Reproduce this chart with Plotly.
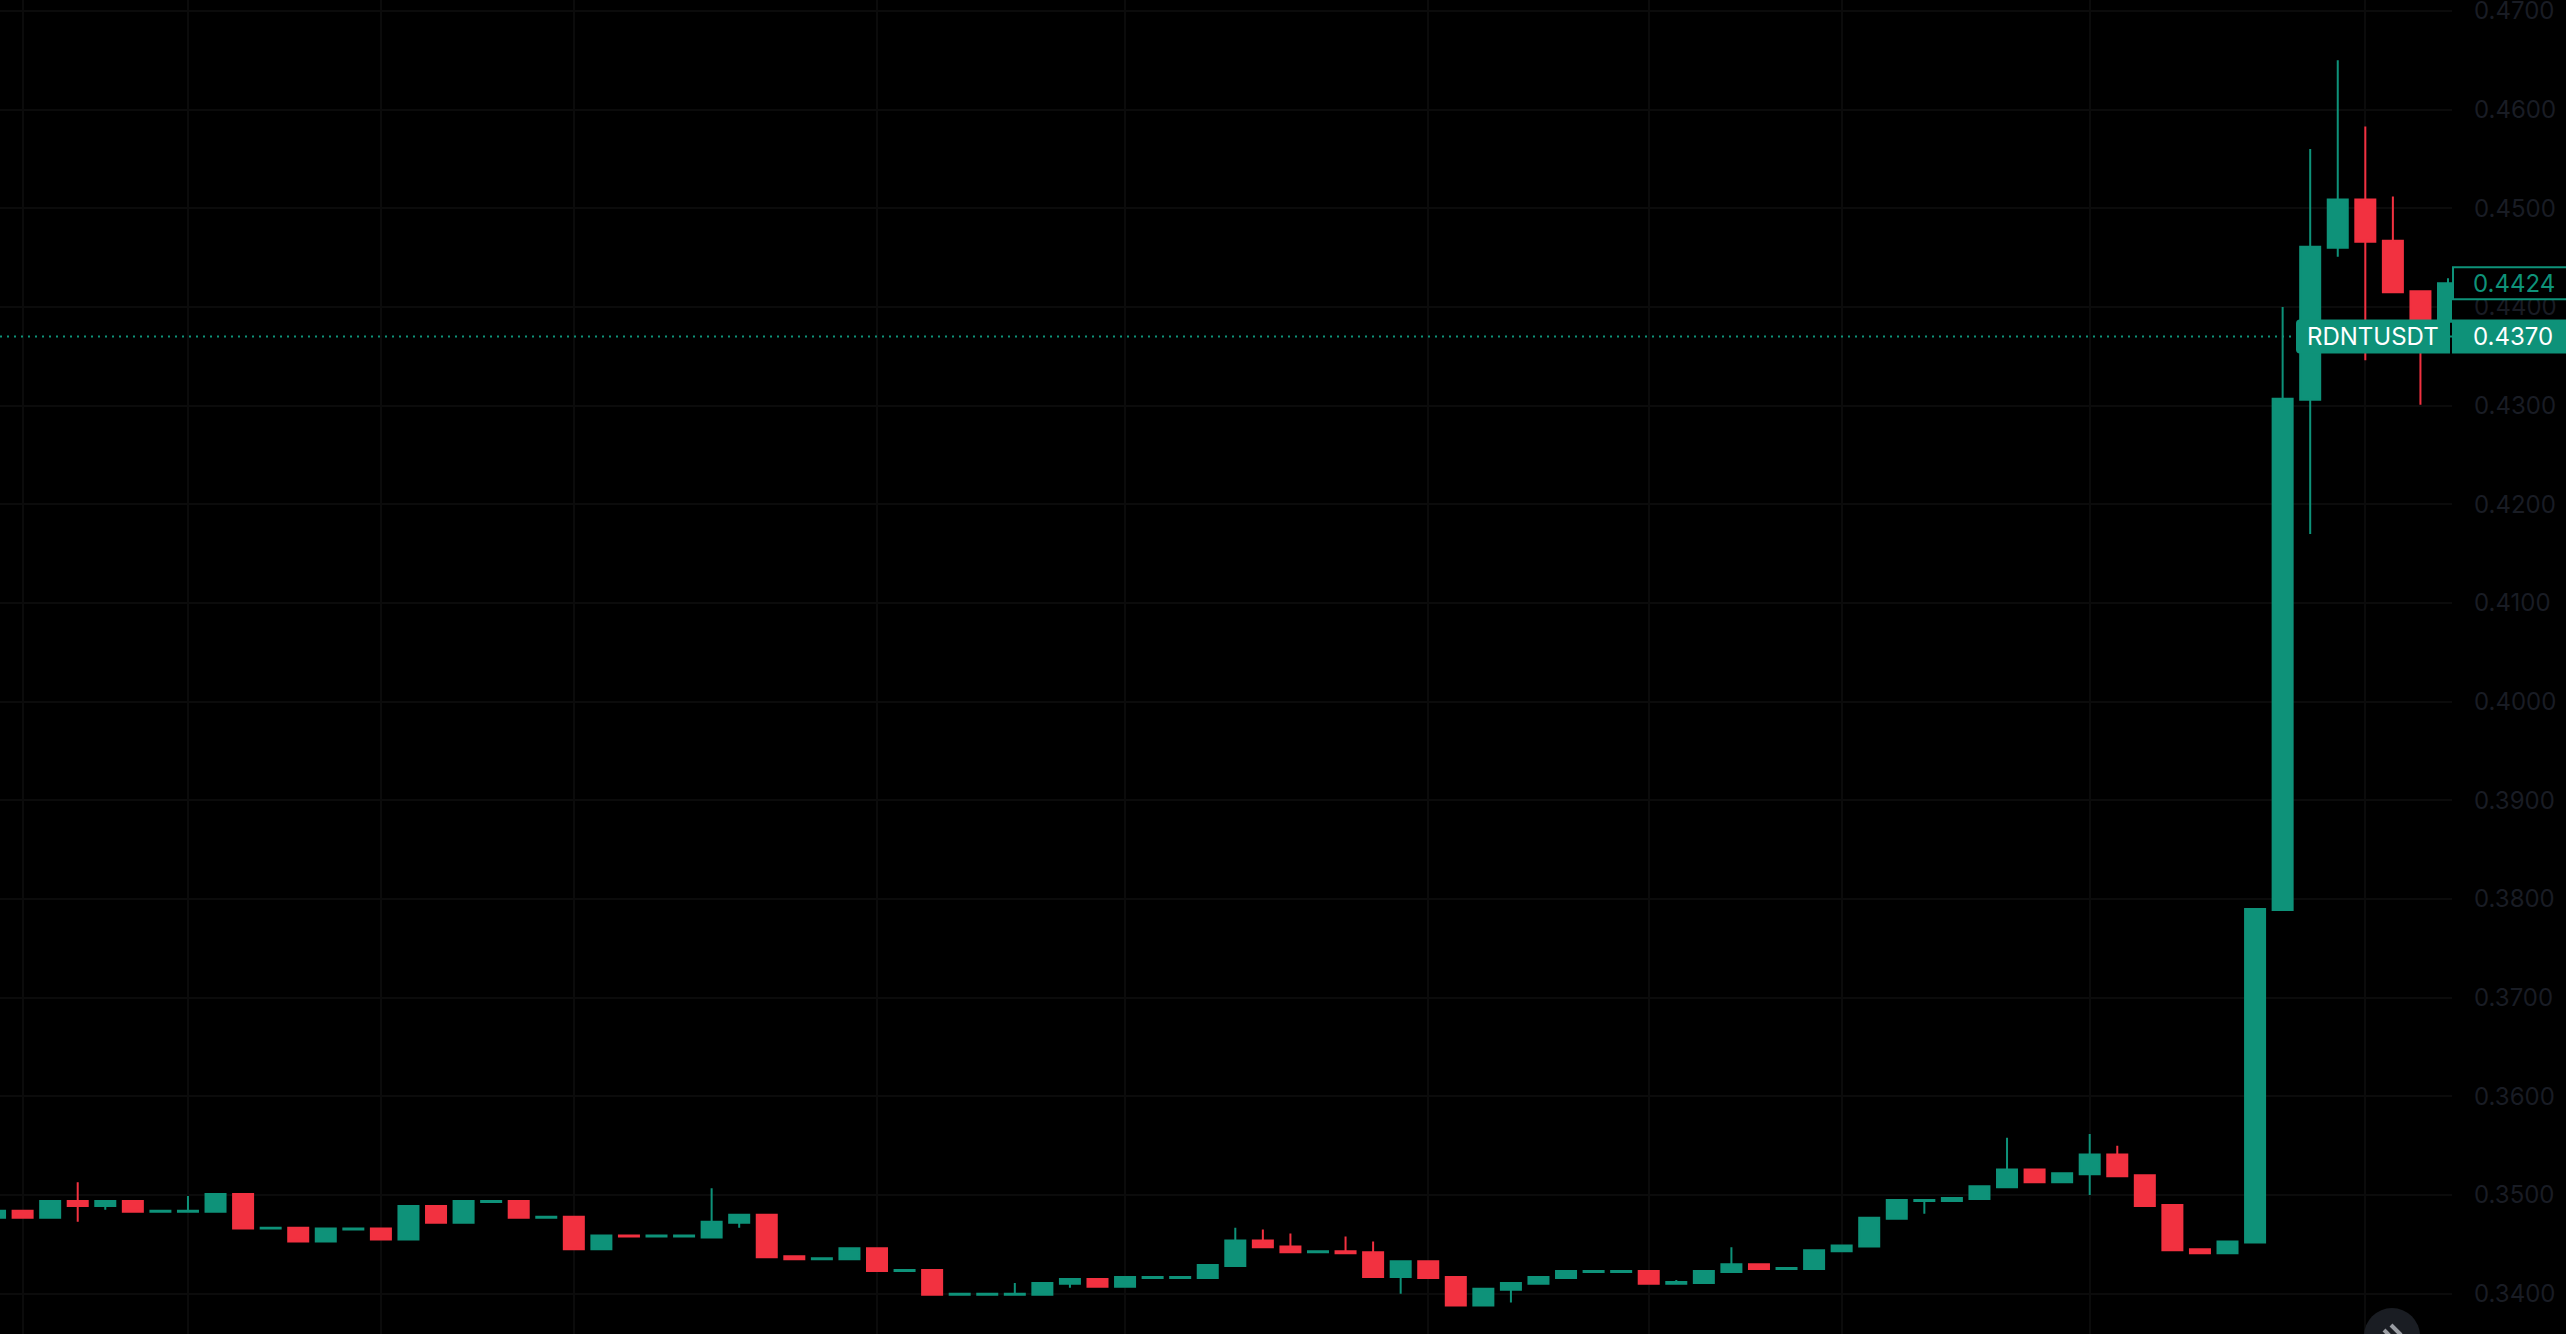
import plotly.graph_objects as go

# candles, prices in units of 0.0001
opens = [3477,3484,3477,3494,3489,3494,3483,3483,3483,3501,3466,3467,3453,3465,3466,3455,3489,3472,3493,3494,
         3477,3478,3445,3459,3458,3458,3457,3472,3480,3438,3435,3435,3446,3423,3424,3399,3399,3399,3399,3410,
         3415,3407,3416,3416,3416,3428,3454,3448,3442,3443,3442,3417,3433,3417,3388,3404,3410,3416,3422,3422,
         3423,3410,3411,3422,3430,3425,3425,3443,3448,3476,3494,3494,3496,3508,3526,3513,3521,3541,3520,3490,
         3445,3441,3452,3789,4306,4460,4509,4467,4416,4385]
highs = [3484,3484,3494,3513,3494,3494,3484,3499,3501,3501,3467,3468,3466,3466,3466,3489,3489,3494,3494,3494,
         3478,3479,3459,3459,3459,3459,3507,3480,3480,3439,3436,3446,3446,3424,3424,3400,3400,3411,3411,3415,
         3415,3417,3417,3417,3429,3467,3465,3461,3443,3458,3453,3433,3433,3417,3405,3411,3417,3423,3423,3423,
         3423,3414,3423,3447,3431,3426,3444,3450,3477,3495,3495,3497,3509,3558,3526,3522,3562,3550,3520,3490,
         3445,3453,3790,4400,4560,4650,4583,4512,4416,4429]
lows = [3477,3477,3477,3473,3485,3483,3483,3483,3483,3466,3466,3453,3453,3465,3455,3455,3472,3472,3493,3477,
        3477,3445,3445,3458,3458,3458,3457,3467,3437,3435,3435,3435,3423,3423,3399,3399,3399,3399,3399,3406,
        3407,3407,3416,3416,3416,3428,3447,3442,3442,3441,3417,3400,3416,3388,3388,3391,3410,3416,3422,3422,
        3410,3410,3411,3422,3425,3425,3425,3442,3448,3476,3481,3494,3496,3508,3513,3513,3500,3519,3489,3444,
        3441,3440,3452,3789,4170,4451,4346,4415,4301,4385]
closes = [3484,3477,3494,3489,3494,3483,3484,3484,3501,3466,3467,3453,3466,3466,3455,3489,3472,3494,3494,3477,
          3478,3445,3459,3458,3459,3459,3473,3480,3437,3435,3436,3446,3423,3424,3399,3400,3400,3400,3411,3415,
          3407,3417,3417,3417,3429,3454,3447,3442,3443,3441,3417,3433,3416,3388,3405,3411,3417,3423,3423,3423,
          3410,3412,3423,3430,3425,3426,3444,3449,3477,3495,3495,3497,3509,3526,3513,3522,3541,3519,3489,3444,
          3441,3453,3790,4307,4461,4509,4466,4415,4385,4424]

price_ticks = [0.34,0.35,0.36,0.37,0.38,0.39,0.40,0.41,0.42,0.43,0.44,0.45,0.46,0.47]
date_grid = [1,7,14,21,32,41,52,60,67,76,86]
symbol = "RDNTUSDT"
last_close = 0.4424
mark_price = 0.4370

GREEN = "#0e9279"
RED = "#f23140"
GRID = "#0b0b0b"
TICK = "#191c24"

idx = list(range(len(closes)))
fig = go.Figure(go.Candlestick(
    x=idx,
    open=[v/10000 for v in opens],
    high=[v/10000 for v in highs],
    low=[v/10000 for v in lows],
    close=[v/10000 for v in closes],
    whiskerwidth=0,
    increasing=dict(line=dict(color=GREEN, width=2), fillcolor=GREEN),
    decreasing=dict(line=dict(color=RED, width=2), fillcolor=RED),
    hoverinfo="skip",
))

# dotted price line
fig.add_shape(type="line", xref="paper", yref="y", x0=0, x1=1, y0=mark_price, y1=mark_price,
              line=dict(color=GREEN, width=2, dash="2px,5px"), layer="above")
# symbol pill
fig.add_shape(type="path", xref="paper", yref="y", xsizemode="pixel", ysizemode="pixel", xanchor=1, yanchor=mark_price,
              path="M -152,-17 L -2,-17 L -2,17 L -152,17 Q -156,17 -156,13 L -156,-13 Q -156,-17 -152,-17 Z",
              fillcolor=GREEN, line=dict(width=0), layer="above")
# price boxes on the axis
fig.add_shape(type="rect", xref="paper", yref="y", xsizemode="pixel", ysizemode="pixel", xanchor=1, yanchor=mark_price,
              x0=0, x1=114, y0=-17, y1=17, fillcolor=GREEN, line=dict(width=0), layer="above")
fig.add_shape(type="rect", xref="paper", yref="y", xsizemode="pixel", ysizemode="pixel", xanchor=1, yanchor=last_close,
              x0=1, x1=116, y0=-16, y1=16, fillcolor="#000000", line=dict(color=GREEN, width=2), layer="above")
# scroll button bottom right
fig.add_shape(type="circle", xref="paper", yref="paper", xsizemode="pixel", ysizemode="pixel", xanchor=1, yanchor=0,
              x0=-88, x1=-32, y0=-30, y1=26, fillcolor="#1a1d23", line=dict(width=0), layer="above")
fig.add_shape(type="line", xref="paper", yref="paper", xsizemode="pixel", ysizemode="pixel", xanchor=1, yanchor=0,
              x0=-68, x1=-60, y0=4, y1=-4, line=dict(color="#9a9da3", width=4), layer="above")
fig.add_shape(type="line", xref="paper", yref="paper", xsizemode="pixel", ysizemode="pixel", xanchor=1, yanchor=0,
              x0=-61, x1=-51, y0=9, y1=-1, line=dict(color="#9a9da3", width=4), layer="above")

fig.add_annotation(x=1, xref="paper", xshift=-79, xanchor="center", y=mark_price, yref="y", text=symbol,
                   showarrow=False, font=dict(family="Inter", size=24, color="#ffffff"))
fig.add_annotation(x=1, xref="paper", xshift=19, xanchor="left", y=mark_price, yref="y", text="%.4f" % mark_price,
                   showarrow=False, font=dict(family="Inter", size=24, color="#ffffff"))
fig.add_annotation(x=1, xref="paper", xshift=19, xanchor="left", y=last_close, yref="y", text="%.4f" % last_close,
                   showarrow=False, font=dict(family="Inter", size=24, color=GREEN))

fig.update_layout(
    width=2566, height=1334, margin=dict(l=0, r=114, t=0, b=0),
    paper_bgcolor="#000000", plot_bgcolor="#000000", showlegend=False,
    boxgap=0.274, boxgroupgap=0,
    xaxis=dict(range=[0.18, 89.145], rangeslider=dict(visible=False), tickmode="array", tickvals=date_grid,
               showticklabels=False, showgrid=True, gridcolor=GRID, gridwidth=2, zeroline=False, ticks=""),
    yaxis=dict(range=[0.33592, 0.47111], side="right", tickmode="array", tickvals=price_ticks,
               ticktext=["%.4f" % v for v in price_ticks], showgrid=True, gridcolor=GRID, gridwidth=2,
               zeroline=False, ticks="", ticklabelstandoff=21, ticklabeloverflow="allow", automargin=False,
               tickfont=dict(family="Inter", size=24, color=TICK)),
)

fig.write_html("out.html", config=dict(displayModeBar=False), post_script="document.body.style.margin='0';")
